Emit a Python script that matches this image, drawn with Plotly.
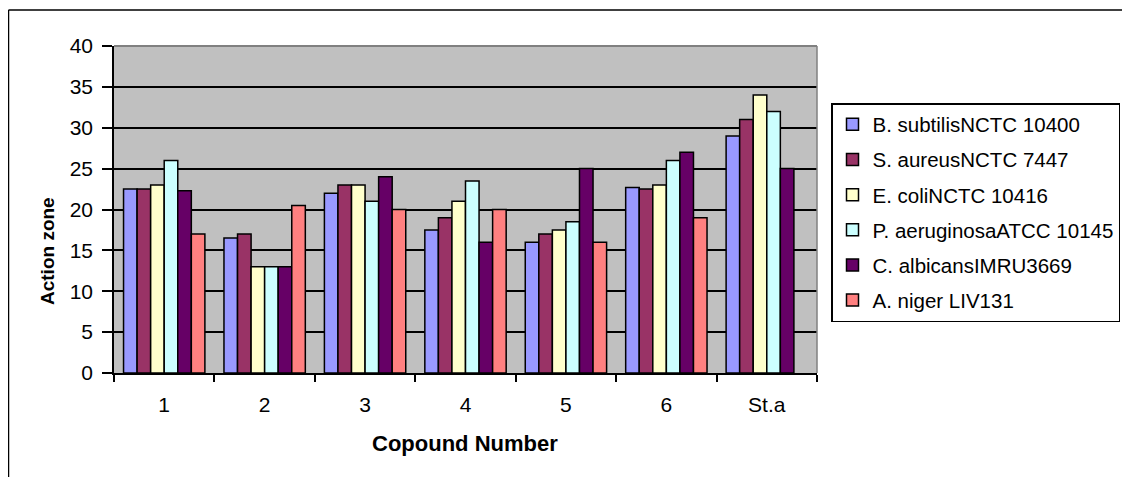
import plotly.graph_objects as go

categories = ["1", "2", "3", "4", "5", "6", "St.a"]

series_names = [
    "B. subtilisNCTC 10400",
    "S. aureusNCTC 7447",
    "E. coliNCTC 10416",
    "P. aeruginosaATCC 10145",
    "C. albicansIMRU3669",
    "A. niger LIV131",
]

b_subtilis = [22.5, 16.5, 22, 17.5, 16, 22.7, 29]
s_aureus = [22.5, 17, 23, 19, 17, 22.5, 31]
e_coli = [23, 13, 23, 21, 17.5, 23, 34]
p_aeruginosa = [26, 13, 21, 23.5, 18.5, 26, 32]
c_albicans = [22.3, 13, 24, 16, 25, 27, 25]
a_niger = [17, 20.5, 20, 20, 16, 19, None]

series_values = [b_subtilis, s_aureus, e_coli, p_aeruginosa, c_albicans, a_niger]
colors = ["#9999FF", "#993366", "#FFFFCC", "#CCFFFF", "#660066", "#FF8080"]

W, H = 1130, 477
FONT = "Liberation Sans, Arial, sans-serif"
OFF = 8  # page body margin offset

# plot-area pixel box in the reference picture
px_l, px_r, px_t, px_b = 114, 817, 46, 373


def fx(p):
    return (p - OFF) / W


def fy(p):
    return 1 - (p - OFF) / H


fig = go.Figure()
for name, vals, col in zip(series_names, series_values, colors):
    fig.add_trace(go.Bar(
        x=categories, y=vals, name=name, legendgroup=name,
        marker=dict(color=col, line=dict(color="black", width=1.5)),
    ))

fig.update_layout(
    width=W, height=H,
    autosize=False,
    margin=dict(l=0, r=0, t=0, b=0, autoexpand=False),
    paper_bgcolor="white",
    plot_bgcolor="#C0C0C0",
    barmode="group",
    bargap=0.19,
    bargroupgap=0,
    font=dict(family=FONT, size=21, color="black"),
    showlegend=True,
    legend=dict(
        x=fx(831), y=fy(103), xanchor="left", yanchor="top",
        xref="container", yref="container",
        bgcolor="white", bordercolor="black", borderwidth=1.5,
        font=dict(family=FONT, size=20.5, color="black"),
        tracegroupgap=5.5,
        traceorder="grouped",
    ),
    xaxis=dict(
        domain=[fx(px_l), fx(px_r)],
        type="category",
        automargin=False,
        showline=True, linecolor="black", linewidth=1.5,
        ticks="outside", ticklen=7, tickcolor="black", tickwidth=1.5,
        tickson="boundaries",
        showgrid=False,
        tickfont=dict(family=FONT, size=21, color="black"),
        ticklabelstandoff=12,
    ),
    yaxis=dict(
        domain=[fy(px_b), fy(px_t)],
        range=[0, 40], dtick=5, tick0=0,
        automargin=False,
        showline=True, linecolor="black", linewidth=1.5,
        ticks="outside", ticklen=10, tickcolor="black", tickwidth=1.5,
        showgrid=True, gridcolor="black", gridwidth=1.5,
        zeroline=False,
        tickfont=dict(family=FONT, size=21, color="black"),
        ticklabelstandoff=5,
    ),
)

shapes = [
    # plot-area top & right border (gray)
    dict(type="line", xref="paper", yref="paper",
         x0=fx(px_l), x1=fx(px_r), y0=fy(px_t), y1=fy(px_t),
         line=dict(color="#808080", width=2)),
    dict(type="line", xref="paper", yref="paper",
         x0=fx(px_r), x1=fx(px_r), y0=fy(px_t), y1=fy(px_b),
         line=dict(color="#808080", width=1.5)),
    # chart outer border (top & left visible)
    dict(type="line", xref="paper", yref="paper",
         x0=fx(8.5), x1=1, y0=fy(10), y1=fy(10),
         line=dict(color="black", width=1.5)),
    dict(type="line", xref="paper", yref="paper",
         x0=fx(8.5), x1=fx(8.5), y0=fy(10), y1=0,
         line=dict(color="black", width=1.5)),
]
fig.update_layout(shapes=shapes)

fig.add_annotation(
    text="<b>Action zone</b>", textangle=-90,
    xref="paper", yref="paper", x=fx(47), y=fy(251),
    xanchor="center", yanchor="middle", showarrow=False,
    font=dict(family=FONT, size=19, color="black"),
)
fig.add_annotation(
    text="<b>Copound Number</b>",
    xref="paper", yref="paper", x=fx(465), y=fy(443),
    xanchor="center", yanchor="middle", showarrow=False,
    font=dict(family=FONT, size=22, color="black"),
)

fig.write_html("out.html")
